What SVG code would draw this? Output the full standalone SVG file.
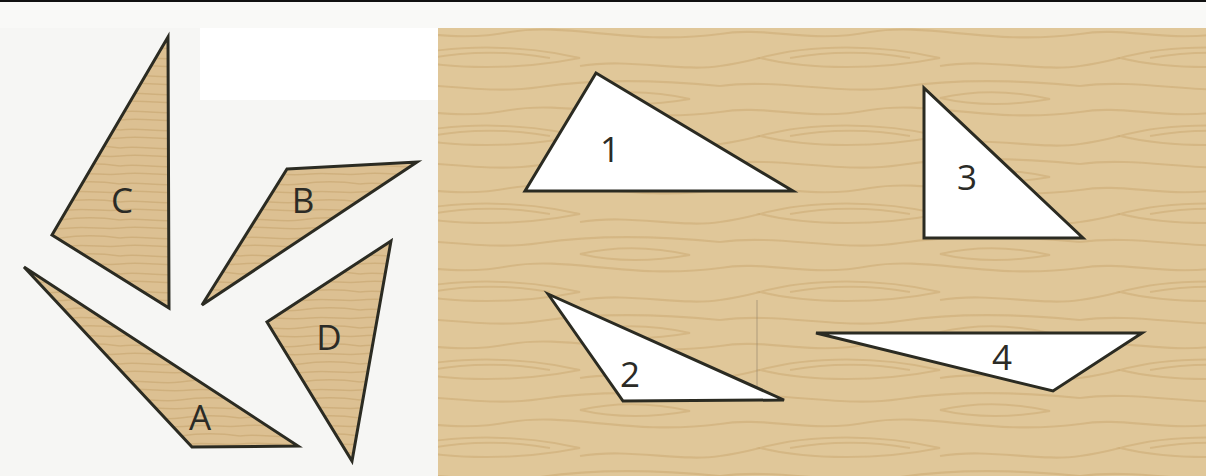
<svg xmlns="http://www.w3.org/2000/svg" width="1206" height="476" viewBox="0 0 1206 476">
  <style>
    .lbl { font-family: "Open Sans", "Noto Sans", "Liberation Sans", sans-serif; font-size: 35px; fill: #2b2b26; text-anchor: middle; }
    .piece { fill: url(#grainFine); stroke: #2b2b22; stroke-width: 3; stroke-linejoin: miter; }
    .hole { fill: #ffffff; stroke: #2b2b22; stroke-width: 3; stroke-linejoin: miter; }
    .grain { fill: none; stroke: #c9a870; stroke-width: 2.2; opacity: 0.5; }
    .grainF { fill: none; stroke: #c4a26c; stroke-width: 1.4; opacity: 0.55; }
  </style>
  <defs>
    <pattern id="wood" patternUnits="userSpaceOnUse" width="360" height="78">
      <rect width="360" height="78" fill="#e0c799"/>
      <path class="grain" d="M0 8 C 60 0, 120 18, 180 9 S 300 2, 360 8"/>
      <path class="grain" d="M0 34 C 45 26, 90 44, 150 32 C 210 22, 270 46, 360 34"/>
      <path class="grain" d="M40 58 C 90 44, 160 44, 220 58 C 160 70, 90 70, 40 58 Z"/>
      <path class="grain" d="M70 58 C 110 51, 150 51, 190 58"/>
      <path class="grain" d="M220 20 C 255 12, 290 12, 330 21 C 290 28, 255 28, 220 20 Z"/>
      <path class="grain" d="M220 66 C 270 58, 320 72, 360 66"/>
      <path class="grain" d="M0 66 C 15 64, 28 61, 40 58"/>
    </pattern>
    <pattern id="grainFine" patternUnits="userSpaceOnUse" width="120" height="18">
      <rect width="120" height="18" fill="#dcc092"/>
      <path class="grainF" d="M0 4 C 20 1, 40 7, 60 4 S 100 1, 120 4"/>
      <path class="grainF" d="M0 12 C 25 9, 45 15, 70 12 C 90 10, 105 14, 120 12"/>
    </pattern>
  </defs>

  <!-- page background -->
  <rect x="0" y="0" width="1206" height="476" fill="#f6f6f4"/>
  <rect x="200" y="28" width="238" height="72" fill="#ffffff"/>
  <rect x="0" y="0" width="1206" height="28" fill="#f9f9f7"/>
  <line x1="0" y1="1" x2="1206" y2="1" stroke="#111111" stroke-width="2"/>

  <!-- wood board -->
  <g id="board">
    <rect x="438" y="28" width="768" height="448" fill="url(#wood)"/>
    <line x1="757" y1="300" x2="757" y2="396" stroke="#9a8a70" stroke-width="1" opacity="0.7"/>
  </g>

  <!-- loose pieces -->
  <g id="pieceC">
    <polygon class="piece" points="168,37 52,235 169,308"/>
    <text class="lbl" x="122" y="213">C</text>
  </g>
  <g id="pieceB">
    <polygon class="piece" points="287,169 417,162 202,305"/>
    <text class="lbl" x="303" y="213">B</text>
  </g>
  <g id="pieceD">
    <polygon class="piece" points="391,241 267,322 352,461"/>
    <text class="lbl" x="329" y="350">D</text>
  </g>
  <g id="pieceA">
    <polygon class="piece" points="24,267 192,447 298,446"/>
    <text class="lbl" x="200" y="430">A</text>
  </g>

  <!-- holes in board -->
  <g id="hole1">
    <polygon class="hole" points="596,73 525,191 793,191"/>
    <text class="lbl" x="610" y="162">1</text>
  </g>
  <g id="hole3">
    <polygon class="hole" points="924,88 924,238 1083,238"/>
    <text class="lbl" x="967" y="190">3</text>
  </g>
  <g id="hole2">
    <polygon class="hole" points="548,294 623,401 784,400"/>
    <text class="lbl" x="630" y="387">2</text>
  </g>
  <g id="hole4">
    <polygon class="hole" points="816,333 1142,333 1053,391"/>
    <text class="lbl" x="1002" y="370">4</text>
  </g>

  <g id="connectors"/>
</svg>
